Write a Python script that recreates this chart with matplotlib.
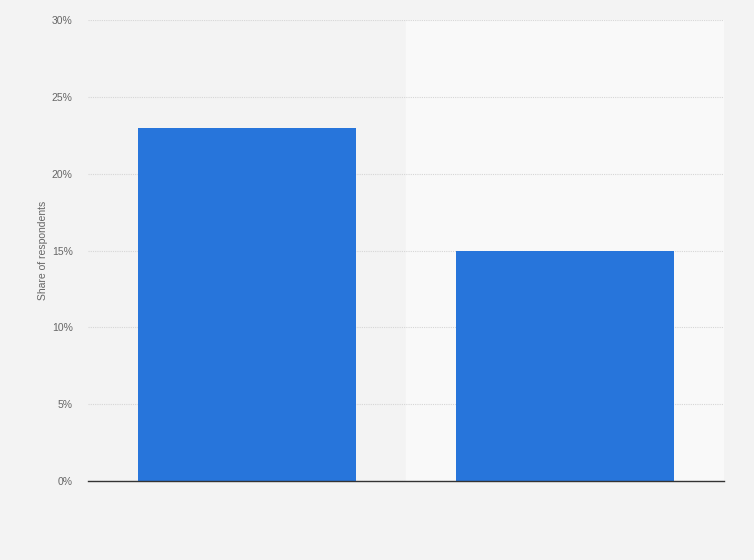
import matplotlib.pyplot as plt
from matplotlib.ticker import FuncFormatter

plt.rcParams["font.family"] = ["Liberation Sans", "DejaVu Sans"]

# data
categories = ["", ""]
values = [23, 15]

fig = plt.figure(figsize=(7.54, 5.6), dpi=100, facecolor="#f3f3f3")
ax = fig.add_axes([0.1167, 0.141, 0.8435, 0.823])
ax.set_facecolor("#f3f3f3")

x = list(range(len(values)))
# alternating column bands
ax.axvspan(0.5, 1.5, color="#f9f9f9", zorder=0)

ax.bar(x, values, width=0.686, color="#2775db", zorder=3)

ax.set_xlim(-0.5, 1.5)
ax.set_ylim(0, 30)
ax.set_yticks(range(0, 31, 5))
ax.yaxis.set_major_formatter(FuncFormatter(lambda v, p: f"{int(v)}%"))
ax.grid(axis="y", color="#d6d6d6", linestyle=(0, (1, 1)), linewidth=0.8, zorder=1)
ax.set_xticks([])

for s in ["top", "right", "left"]:
    ax.spines[s].set_visible(False)
ax.spines["bottom"].set_color("#333333")
ax.spines["bottom"].set_linewidth(1.0)
ax.spines["bottom"].set_zorder(4)

ax.tick_params(axis="y", length=0, labelsize=7.5, labelcolor="#666666", pad=11)
ax.set_ylabel("Share of respondents", fontsize=7.5, color="#666666", labelpad=3)

plt.savefig("out.png", dpi=100, facecolor=fig.get_facecolor())
